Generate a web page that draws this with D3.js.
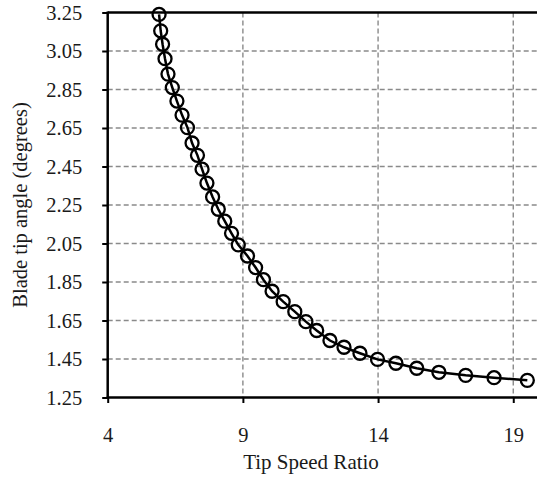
<!DOCTYPE html>
<html>
<head>
<meta charset="utf-8">
<script src="https://cdn.jsdelivr.net/npm/d3@7"></script>
<style>
  body { margin: 0; background: #fff; }
  svg { display: block; }
  text { font-family: "Liberation Serif", "Times New Roman", serif; fill: #1a1a1a; }
</style>
</head>
<body>
<div class="chart"></div>
<script>
// values
var tipSpeedRatio = [5.90, 5.96, 6.03, 6.12, 6.23, 6.39, 6.56, 6.75, 6.95, 7.12, 7.32, 7.49,
                     7.67, 7.88, 8.09, 8.33, 8.58, 8.83, 9.17, 9.47, 9.76, 10.08, 10.49, 10.92,
                     11.33, 11.73, 12.22, 12.74, 13.33, 13.98, 14.66, 15.43, 16.25, 17.24, 18.29, 19.52];
var tipAngle = [3.240, 3.155, 3.085, 3.010, 2.930, 2.860, 2.790, 2.717, 2.652, 2.572, 2.508, 2.436,
                2.364, 2.292, 2.228, 2.166, 2.103, 2.043, 1.985, 1.925, 1.862, 1.802, 1.748, 1.696,
                1.644, 1.598, 1.546, 1.511, 1.480, 1.448, 1.428, 1.402, 1.381, 1.365, 1.353, 1.339];
var xTicks = [4, 9, 14, 19];
var yTicks = [1.25, 1.45, 1.65, 1.85, 2.05, 2.25, 2.45, 2.65, 2.85, 3.05, 3.25];

var width = 537,
    height = 477;

// plot box (right edge runs past the window, as in the original crop)
var plotLeft = 107.7,
    plotRight = 540.3,
    plotTop = 12.5,
    plotBottom = 397.5;

var data = tipSpeedRatio.map(function(d, i) { return {x: d, y: tipAngle[i]}; });

var x = d3.scaleLinear().domain([4, 20]).range([plotLeft, plotRight]);
var y = d3.scaleLinear().domain([1.25, 3.25]).range([plotBottom, plotTop]);

var svg = d3.select(".chart").append("svg")
    .attr("width", width)
    .attr("height", height);

// dashed grid
svg.append("g").selectAll("line")
  .data(yTicks.slice(1, -1))
  .enter().append("line")
    .attr("x1", plotLeft).attr("x2", width)
    .attr("y1", function(d) { return y(d); })
    .attr("y2", function(d) { return y(d); })
    .style("stroke", "#8a8a8a")
    .style("stroke-width", 1.4)
    .style("stroke-dasharray", "5,3");

svg.append("g").selectAll("line")
  .data(xTicks.slice(1))
  .enter().append("line")
    .attr("x1", function(d) { return x(d); })
    .attr("x2", function(d) { return x(d); })
    .attr("y1", plotTop).attr("y2", plotBottom)
    .style("stroke", "#8a8a8a")
    .style("stroke-width", 1.4)
    .style("stroke-dasharray", "5,3");

// top border
svg.append("line")
    .attr("x1", plotLeft).attr("x2", width)
    .attr("y1", plotTop).attr("y2", plotTop)
    .style("stroke", "#000")
    .style("stroke-width", 2.5);

// axes
var yAxis = svg.append("g")
    .attr("transform", "translate(" + plotLeft + ",0)")
    .call(d3.axisLeft(y).tickValues(yTicks).tickFormat(d3.format(".2f")).tickSize(5.5).tickPadding(20));

var xAxis = svg.append("g")
    .attr("transform", "translate(0," + plotBottom + ")")
    .call(d3.axisBottom(x).tickValues(xTicks).tickFormat(d3.format("d")).tickSize(5.5).tickPadding(24));

[yAxis, xAxis].forEach(function(g) {
  g.select(".domain").remove();
  g.selectAll("line").style("stroke", "#000").style("stroke-width", 2);
  g.selectAll("text").style("font-size", "20.5px").style("fill", "#1a1a1a")
    .style("font-family", "'Liberation Serif', 'Times New Roman', serif");
});

svg.append("line")
    .attr("x1", plotLeft).attr("x2", plotLeft)
    .attr("y1", plotTop - 1).attr("y2", plotBottom + 1)
    .style("stroke", "#000")
    .style("stroke-width", 2.5);

svg.append("line")
    .attr("x1", plotLeft - 1).attr("x2", width)
    .attr("y1", plotBottom).attr("y2", plotBottom)
    .style("stroke", "#000")
    .style("stroke-width", 2.5);

// series
var line = d3.line()
    .x(function(d) { return x(d.x); })
    .y(function(d) { return y(d.y); });

svg.append("path")
    .datum(data)
    .attr("d", line)
    .style("fill", "none")
    .style("stroke", "#000")
    .style("stroke-width", 2.5);

svg.append("g").selectAll("circle")
  .data(data)
  .enter().append("circle")
    .attr("cx", function(d) { return x(d.x); })
    .attr("cy", function(d) { return y(d.y); })
    .attr("r", 6.5)
    .style("fill", "none")
    .style("stroke", "#000")
    .style("stroke-width", 2.3);

// titles
svg.append("text")
    .attr("x", 311)
    .attr("y", 469)
    .style("text-anchor", "middle")
    .style("font-size", "21px")
    .text("Tip Speed Ratio");

svg.append("text")
    .attr("transform", "translate(27,205) rotate(-90)")
    .style("text-anchor", "middle")
    .style("font-size", "20.5px")
    .text("Blade tip angle (degrees)");
</script>
</body>
</html>
